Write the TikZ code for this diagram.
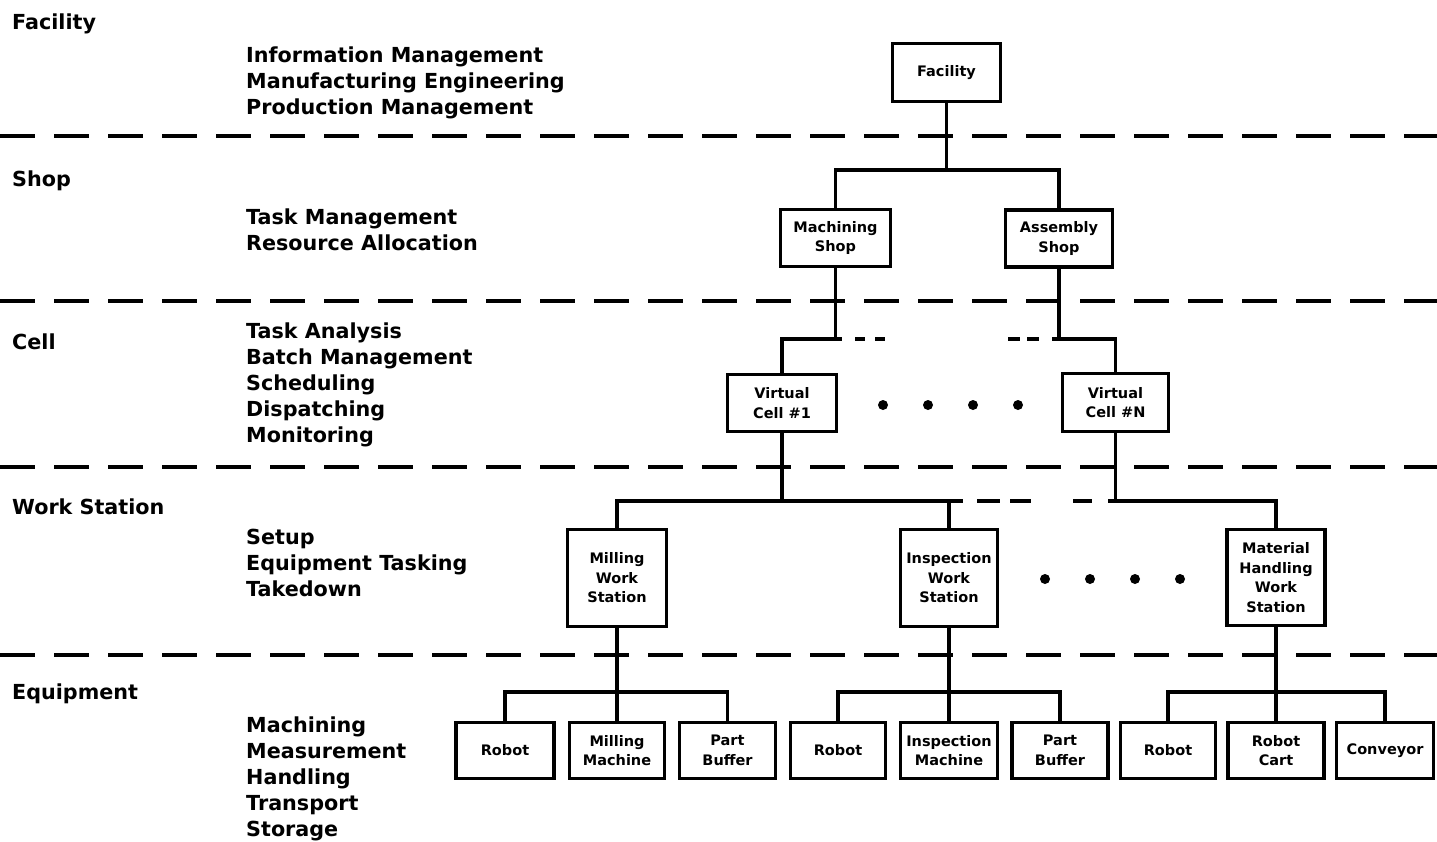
\documentclass[tikz,border=0pt]{standalone}
\usepackage{fontspec}
\setmainfont{DejaVu Sans}
\begin{document}
\begin{tikzpicture}[x=1pt,y=-1pt,
  box/.style={draw, line width=3.2pt, fill=white, align=center, inner sep=0pt,
    font=\fontsize{14.5}{19.5}\selectfont\bfseries},
  conn/.style={line width=3.4pt},
  sep/.style={line width=3.4pt, dash pattern=on 35pt off 19pt},
  lvl/.style={anchor=base west, inner sep=0pt, font=\fontsize{20.7}{26}\selectfont\bfseries},
  fn/.style={anchor=base west, inner sep=0pt, align=left, font=\fontsize{20.7}{26}\selectfont\bfseries},
  dot/.style={circle, fill=black, inner sep=0pt, minimum size=10pt}]
\useasboundingbox (0,0) rectangle (1437,841);
\fill[white] (0,0) rectangle (1437,841);

% level separators
\draw[sep] (0,136) -- (1437,136);
\draw[sep] (0,301) -- (1437,301);
\draw[sep] (0,467) -- (1437,467);
\draw[sep] (0,655) -- (1437,655);

% level labels
\node[lvl] (lf) at (12,29) {Facility};
\node[lvl] (ls) at (12,186) {Shop};
\node[lvl] (lc) at (12,349) {Cell};
\node[lvl] (lw) at (12,514) {Work Station};
\node[lvl] (le) at (12,699) {Equipment};

% functions (anchor = baseline of last line)
\node[fn] (ff) at (246,114) {Information Management\\Manufacturing Engineering\\Production Management};
\node[fn] (fs) at (246,250) {Task Management\\Resource Allocation};
\node[fn] (fc) at (246,442) {Task Analysis\\Batch Management\\Scheduling\\Dispatching\\Monitoring};
\node[fn] (fw) at (246,596) {Setup\\Equipment Tasking\\Takedown};
\node[fn] (fe) at (246,836) {Machining\\Measurement\\Handling\\Transport\\Storage};

% boxes
\node[box, minimum width=108pt, minimum height=58pt] (fac) at (946.5,72.5) {Facility};
\node[box, minimum width=110pt, minimum height=57pt] (msh) at (835.5,238) {Machining\\Shop};
\node[box, minimum width=107pt, minimum height=57pt] (ash) at (1059,238.5) {Assembly\\Shop};
\node[box, minimum width=109pt, minimum height=57pt] (vc1) at (782,403) {Virtual\\Cell \#1};
\node[box, minimum width=106pt, minimum height=58pt] (vcn) at (1115.5,402.5) {Virtual\\Cell \#N};
\node[box, minimum width=99pt, minimum height=97pt] (mws) at (617,578) {Milling\\Work\\Station};
\node[box, minimum width=97pt, minimum height=97pt] (iws) at (949,578) {Inspection\\Work\\Station};
\node[box, minimum width=98pt, minimum height=96pt] (hws) at (1276,577.5) {Material\\Handling\\Work\\Station};

\node[box, minimum width=98pt, minimum height=56pt] (e1) at (505,750.5) {Robot};
\node[box, minimum width=95pt, minimum height=56pt] (e2) at (617,750.5) {Milling\\Machine};
\node[box, minimum width=96pt, minimum height=56pt] (e3) at (727.5,750.5) {Part\\Buffer};
\node[box, minimum width=95pt, minimum height=56pt] (e4) at (838,750.5) {Robot};
\node[box, minimum width=97pt, minimum height=56pt] (e5) at (949,750.5) {Inspection\\Machine};
\node[box, minimum width=96pt, minimum height=56pt] (e6) at (1060,750.5) {Part\\Buffer};
\node[box, minimum width=95pt, minimum height=56pt] (e7) at (1168,750.5) {Robot};
\node[box, minimum width=96pt, minimum height=56pt] (e8) at (1276,750.5) {Robot\\Cart};
\node[box, minimum width=97pt, minimum height=56pt] (e9) at (1385,750.5) {Conveyor};

% bus levels
\coordinate (bA) at (0,170);
\coordinate (bB) at (0,339);
\coordinate (bC) at (0,501);
\coordinate (bD) at (0,692);

% facility -> shops
\draw[conn] (fac.south) -- (fac.south |- bA);
\draw[conn] (msh.north) |- (ash.north |- bA) -- (ash.north);

% shops -> cells
\coordinate (bBl) at (842,339);
\coordinate (bBr) at (1052,339);
\coordinate (sB1) at (855,339);
\coordinate (sB2) at (886,339);
\coordinate (sB3) at (1008,339);
\coordinate (sB4) at (1039,339);
\draw[conn] (msh.south) -- (msh.south |- bB);
\draw[conn] (vc1.north) |- (bBl);
\draw[conn, dash pattern=on 10pt off 10pt] (sB1) -- (sB2);
\draw[conn, dash pattern=on 12pt off 7pt] (sB3) -- (sB4);
\draw[conn] (ash.south) -- (ash.south |- bB);
\draw[conn] (bBr) -| (vcn.north);

% cells -> work stations
\coordinate (bCl) at (963,501);
\coordinate (bCr) at (1108,501);
\coordinate (sC1) at (977,501);
\coordinate (sC2) at (1031,501);
\coordinate (sC3) at (1073,501);
\coordinate (sC4) at (1092,501);
\draw[conn] (vc1.south) -- (vc1.south |- bC);
\draw[conn] (mws.north) |- (bCl);
\draw[conn] (iws.north) -- (iws.north |- bC);
\draw[conn, dash pattern=on 23pt off 10pt] (sC1) -- (sC2);
\draw[conn] (sC3) -- (sC4);
\draw[conn] (vcn.south) -- (vcn.south |- bC);
\draw[conn] (bCr) -| (hws.north);

% work stations -> equipment
\draw[conn] (mws.south) -- (e2.north);
\draw[conn] (e1.north) |- (e3.north |- bD) -- (e3.north);
\draw[conn] (iws.south) -- (e5.north);
\draw[conn] (e4.north) |- (e6.north |- bD) -- (e6.north);
\draw[conn] (hws.south) -- (e8.north);
\draw[conn] (e7.north) |- (e9.north |- bD) -- (e9.north);

% ellipsis dots
\node[dot] (dc1) at (883,405) {};
\node[dot] (dc2) at (928,405) {};
\node[dot] (dc3) at (973,405) {};
\node[dot] (dc4) at (1018,405) {};
\node[dot] (dw1) at (1045,579) {};
\node[dot] (dw2) at (1090,579) {};
\node[dot] (dw3) at (1135,579) {};
\node[dot] (dw4) at (1180,579) {};
\end{tikzpicture}
\end{document}
